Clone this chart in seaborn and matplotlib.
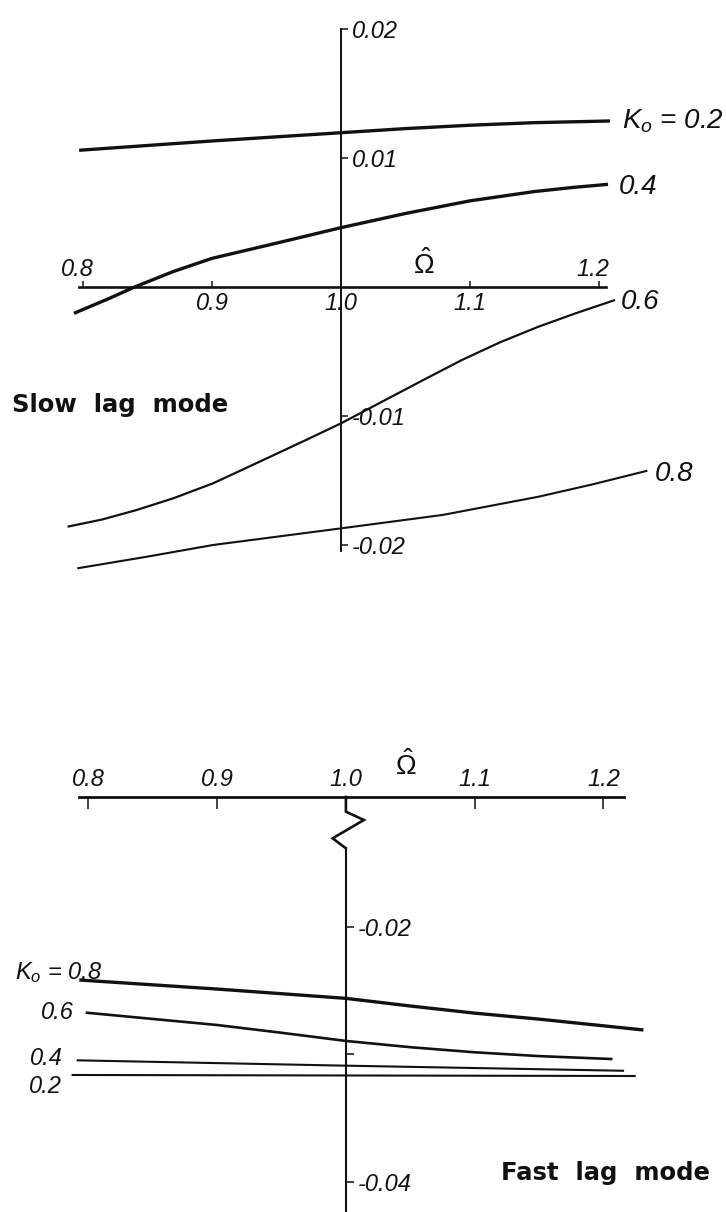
import numpy as np
import pandas as pd
import matplotlib
matplotlib.use("Agg")
import matplotlib.pyplot as plt
import seaborn as sns

# ---------------------------------------------------------------
# Lead-lag damping versus normalised rotor speed, for several K_o
# ---------------------------------------------------------------

# Slow lag mode
slow_omega_k02 = [0.797, 0.90, 1.00, 1.05, 1.10, 1.15, 1.2085]
slow_sigma_k02 = [0.0106, 0.01132, 0.01196, 0.01228, 0.01254, 0.01274, 0.01287]

slow_omega_k04 = [0.793, 0.82, 0.84, 0.87, 0.90, 0.95, 1.00, 1.05, 1.10, 1.15, 1.18, 1.207]
slow_sigma_k04 = [-0.00204, -0.0009, 0.0, 0.0012, 0.00222, 0.0034, 0.0046, 0.0057,
                  0.00668, 0.0074, 0.00772, 0.00796]

slow_omega_k06 = [0.788, 0.815, 0.8415, 0.87, 0.9008, 0.9453, 0.972, 1.00, 1.0343,
                  1.064, 1.0937, 1.123, 1.153, 1.183, 1.2124]
slow_sigma_k06 = [-0.01858, -0.01802, -0.01729, -0.01638, -0.01522, -0.01315, -0.0119,
                  -0.01057, -0.00876, -0.0072, -0.00566, -0.0043, -0.00308, -0.002, -0.00101]

slow_omega_k08 = [0.7955, 0.85, 0.9008, 1.00, 1.0788, 1.153, 1.195, 1.2375]
slow_sigma_k08 = [-0.02181, -0.0209, -0.0200, -0.01871, -0.01767, -0.01626, -0.0153, -0.01424]

# Fast lag mode
fast_omega_k08 = [0.793, 0.90, 1.00, 1.05, 1.10, 1.15, 1.231]
fast_sigma_k08 = [-0.02418, -0.02489, -0.02562, -0.02622, -0.02678, -0.02725, -0.0281]

fast_omega_k06 = [0.798, 0.90, 0.95, 1.00, 1.05, 1.10, 1.15, 1.207]
fast_sigma_k06 = [-0.02674, -0.02771, -0.02832, -0.02896, -0.02945, -0.02985, -0.03015, -0.03038]

fast_omega_k04 = [0.791, 1.00, 1.216]
fast_sigma_k04 = [-0.03048, -0.0309, -0.0313]

fast_omega_k02 = [0.787, 1.225]
fast_sigma_k02 = [-0.03163, -0.03171]

# Axis ticks and labels
omega_ticks = [0.8, 0.9, 1.0, 1.1, 1.2]
omega_labels = ["0.8", "0.9", "1.0", "1.1", "1.2"]
slow_sigma_ticks = [0.02, 0.01, -0.01, -0.02]
slow_sigma_labels = ["0.02", "0.01", "-0.01", "-0.02"]
fast_sigma_ticks = [-0.02, -0.03, -0.04]
fast_sigma_labels = ["-0.02", "", "-0.04"]

slow_curve_labels = ["$K_o$ = 0.2", "0.4", "0.6", "0.8"]
fast_curve_labels = ["$K_o$ = 0.8", "0.6", "0.4", "0.2"]

# ---------------------------------------------------------------
sns.set_theme(style="white")
plt.rcParams["font.family"] = ["Liberation Sans", "DejaVu Sans"]
plt.rcParams["mathtext.fontset"] = "custom"
plt.rcParams["mathtext.it"] = "Liberation Sans:italic"
plt.rcParams["mathtext.rm"] = "Liberation Sans"
plt.rcParams["mathtext.bf"] = "Liberation Sans:bold"

W, H = 726, 1212
PT = 72.0 / 100.0          # points per pixel at dpi 100
fig = plt.figure(figsize=(W / 100, H / 100), dpi=100)
fig.patch.set_facecolor("white")

INK = "#111111"


def make_panel(top_px, bot_px, x_ref_px, x_scale, y_ref_px, y_ref_val, y_scale):
    """Axes spanning the full width between two pixel rows.

    x_ref_px : pixel column of Omega = 1.0, x_scale pixels per unit Omega
    y_ref_px : pixel row of damping value y_ref_val, y_scale pixels per unit
    """
    ax = fig.add_axes([0, 1 - bot_px / H, 1, (bot_px - top_px) / H])
    ax.set_xlim(1 - x_ref_px / x_scale, 1 + (W - x_ref_px) / x_scale)
    ax.set_ylim(y_ref_val - (bot_px - y_ref_px) / y_scale,
                y_ref_val + (y_ref_px - top_px) / y_scale)
    ax.patch.set_alpha(0)
    for s in ax.spines.values():
        s.set_visible(False)
    ax.grid(False)
    return ax


def draw_curves(ax, omegas, sigmas, widths):
    frames = []
    for i, (om, sg) in enumerate(zip(omegas, sigmas)):
        frames.append(pd.DataFrame({"omega": om, "sigma": sg, "curve": i}))
    df = pd.concat(frames, ignore_index=True)
    for i, lw in enumerate(widths):
        sns.lineplot(data=df[df["curve"] == i], x="omega", y="sigma",
                     color=INK, lw=lw, sort=False, estimator=None,
                     ax=ax, legend=False, clip_on=False,
                     solid_capstyle="butt", solid_joinstyle="round")
    ax.set_xlabel("")
    ax.set_ylabel("")


num_font = dict(fontstyle="italic", color=INK)

# ---------------- Slow lag mode (upper panel) ----------------
ax1 = make_panel(0, 640, 341, 1290, 287, 0.0, 12900)
draw_curves(ax1,
            [slow_omega_k02, slow_omega_k04, slow_omega_k06, slow_omega_k08],
            [slow_sigma_k02, slow_sigma_k04, slow_sigma_k06, slow_sigma_k08],
            [2.4, 2.4, 1.6, 1.5])

# Omega axis through sigma = 0
ax1.spines["bottom"].set_visible(True)
ax1.spines["bottom"].set_position(("data", 0.0))
ax1.spines["bottom"].set_bounds(0.797, 1.2054)
ax1.spines["bottom"].set_linewidth(1.9)
ax1.spines["bottom"].set_color(INK)
ax1.xaxis.set_ticks_position("bottom")
ax1.set_xticks(omega_ticks, [""] * len(omega_ticks))
ax1.tick_params(axis="x", direction="in", length=6 * PT, width=1.1, color=INK)
for v, lab in zip(omega_ticks, omega_labels):
    above = v in (0.8, 1.2)
    ax1.annotate(lab, xy=(v, 0.0), xytext=(-6 * PT if above else 0, 17 * PT if above else -16 * PT),
                 textcoords="offset points", ha="center", va="center",
                 fontsize=17, **num_font)

# Damping axis through Omega = 1.0
ax1.spines["right"].set_visible(True)
ax1.spines["right"].set_position(("data", 1.0))
ax1.spines["right"].set_bounds(-0.0205, 0.02)
ax1.spines["right"].set_linewidth(1.4)
ax1.spines["right"].set_color(INK)
ax1.yaxis.set_ticks_position("right")
ax1.set_yticks(slow_sigma_ticks, slow_sigma_labels, fontsize=17, fontstyle="italic", color=INK)
ax1.tick_params(axis="y", direction="out", length=7 * PT, width=1.1, color=INK, pad=3)

# curve labels at the right-hand ends
slow_ends = [(slow_omega_k02, slow_sigma_k02, 12, 0),
             (slow_omega_k04, slow_sigma_k04, 11, -3),
             (slow_omega_k06, slow_sigma_k06, 6, -2),
             (slow_omega_k08, slow_sigma_k08, 7, -3)]
for (om, sg, dx, dy), lab in zip(slow_ends, slow_curve_labels):
    ax1.annotate(lab, xy=(om[-1], sg[-1]), xytext=(dx * PT, dy * PT),
                 textcoords="offset points", ha="left", va="center",
                 fontsize=20, **num_font)

fig.text(424 / W, 1 - 265 / H, r"$\hat{\Omega}$", fontsize=20, ha="center",
         va="center", color=INK)
fig.text(12 / W, 1 - 405 / H, "Slow  lag  mode", fontsize=17.5, fontweight="bold",
         family="DejaVu Sans", ha="left", va="center", color=INK)

# ---------------- Fast lag mode (lower panel) ----------------
ax2 = make_panel(796.7, H, 345.9, 1288, 926.7, -0.02, 12750)
draw_curves(ax2,
            [fast_omega_k08, fast_omega_k06, fast_omega_k04, fast_omega_k02],
            [fast_sigma_k08, fast_sigma_k06, fast_sigma_k04, fast_sigma_k02],
            [2.4, 1.9, 1.5, 1.5])

# Omega axis drawn along the top edge (axis is broken below it)
ax2.spines["top"].set_visible(True)
ax2.spines["top"].set_bounds(0.7927, 1.2162)
ax2.spines["top"].set_linewidth(2.0)
ax2.spines["top"].set_color(INK)
ax2.xaxis.set_ticks_position("top")
ax2.set_xticks(omega_ticks, omega_labels, fontsize=17, fontstyle="italic", color=INK)
ax2.tick_params(axis="x", direction="in", length=12 * PT, width=1.1, color=INK, pad=4)

# Damping axis with break symbol
top_val = ax2.get_ylim()[1]
zig_px = [(0, 0), (0, 15), (18, 23.3), (-13.3, 41.6), (0, 51.6)]
zig_x = [1.0 + dx / 1288 for dx, _ in zig_px]
zig_y = [top_val - dy / 12750 for _, dy in zig_px]
ax2.plot(zig_x, zig_y, color=INK, lw=1.9, clip_on=False, solid_joinstyle="miter")
ax2.spines["right"].set_visible(True)
ax2.spines["right"].set_position(("data", 1.0))
ax2.spines["right"].set_bounds(ax2.get_ylim()[0], zig_y[-1])
ax2.spines["right"].set_linewidth(1.5)
ax2.spines["right"].set_color(INK)
ax2.yaxis.set_ticks_position("right")
ax2.set_yticks(fast_sigma_ticks, fast_sigma_labels, fontsize=17, fontstyle="italic", color=INK)
ax2.tick_params(axis="y", direction="out", length=8 * PT, width=1.1, color=INK, pad=3)

# curve labels at the left-hand ends
fast_starts = [(fast_omega_k08, fast_sigma_k08, 23, 1, "baseline"),
               (fast_omega_k06, fast_sigma_k06, -12, 0, "center"),
               (fast_omega_k04, fast_sigma_k04, -14, 2, "center"),
               (fast_omega_k02, fast_sigma_k02, -10, -12, "center")]
for (om, sg, dx, dy, va), lab in zip(fast_starts, fast_curve_labels):
    ax2.annotate(lab, xy=(om[0], sg[0]), xytext=(dx * PT, dy * PT),
                 textcoords="offset points", ha="right", va=va,
                 fontsize=17, **num_font)

fig.text(406 / W, 1 - 766 / H, r"$\hat{\Omega}$", fontsize=20, ha="center",
         va="center", color=INK)
fig.text(501 / W, 1 - 1173 / H, "Fast  lag  mode", fontsize=17.5, fontweight="bold",
         family="DejaVu Sans", ha="left", va="center", color=INK)

fig.savefig("out.png", dpi=100, facecolor="white")
